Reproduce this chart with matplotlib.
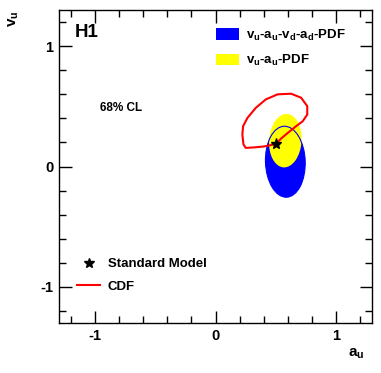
import matplotlib
matplotlib.use('Agg')
import matplotlib.pyplot as plt
from matplotlib.patches import Ellipse, Patch
from matplotlib.lines import Line2D
from matplotlib.ticker import MultipleLocator

plt.rcParams['font.family'] = 'Liberation Sans'
plt.rcParams['font.weight'] = 'bold'
plt.rcParams['axes.unicode_minus'] = False

# 68% CL ellipses (centre a_u, centre v_u, width, height, angle)
blue_ell = (0.58, 0.04, 0.33, 0.59, 2)
yellow_ell = (0.58, 0.215, 0.27, 0.445, -4)

# CDF 68% contour in (a_u, v_u)
cdf_a = [0.502, 0.404, 0.321, 0.251, 0.232, 0.223, 0.229, 0.265, 0.335, 0.418,
         0.516, 0.628, 0.711, 0.762, 0.762, 0.725, 0.669, 0.600, 0.544, 0.502]
cdf_v = [0.187, 0.167, 0.159, 0.155, 0.185, 0.265, 0.335, 0.404, 0.488, 0.558,
         0.600, 0.605, 0.572, 0.502, 0.432, 0.377, 0.335, 0.279, 0.232, 0.187]

sm_a = [0.5]
sm_v = [0.19]

fig = plt.figure(figsize=(3.81, 3.73), dpi=100)
ax = fig.add_axes([0.1549, 0.134, 0.8215, 0.839])

def ell(p, **kw):
    return Ellipse((p[0], p[1]), p[2], p[3], angle=p[4], **kw)

ax.add_patch(ell(blue_ell, facecolor='#0000ff', edgecolor='none', zorder=1))
ax.add_patch(ell(yellow_ell, facecolor='#ffff00', edgecolor='none', zorder=2))
ax.add_patch(ell(blue_ell, facecolor='none', edgecolor='#0000ff', lw=0.8, zorder=3))
ax.plot(cdf_a, cdf_v, color='#ff0000', lw=1.5, zorder=4)
ax.plot(sm_a, sm_v, marker='*', color='black', ms=8, ls='none', zorder=5)

ax.set_xlim(-1.3, 1.3)
ax.set_ylim(-1.3, 1.3)
ax.xaxis.set_major_locator(MultipleLocator(1))
ax.yaxis.set_major_locator(MultipleLocator(1))
ax.xaxis.set_minor_locator(MultipleLocator(0.2))
ax.yaxis.set_minor_locator(MultipleLocator(0.2))
ax.tick_params(which='both', direction='in', top=True, right=True, width=1)
ax.tick_params(which='major', length=9, labelsize=10.5, pad=4)
ax.tick_params(which='minor', length=5)
for s in ax.spines.values():
    s.set_linewidth(1)

ax.text(0.05, 0.957, 'H1', transform=ax.transAxes, fontsize=13.5, va='top', ha='left')
ax.text(0.13, 0.687, '68% CL', transform=ax.transAxes, fontsize=8.5, va='center')

fig.text(0.037, 0.95, r'v$_\mathregular{u}$', rotation=90, fontsize=11, ha='center', va='center')
fig.text(0.935, 0.053, r'a$_\mathregular{u}$', fontsize=11, ha='center', va='center')

h1 = [Patch(facecolor='#0000ff', edgecolor='none'), Patch(facecolor='#ffff00', edgecolor='none')]
l1 = ax.legend(h1, [r'v$_\mathregular{u}$-a$_\mathregular{u}$-v$_\mathregular{d}$-a$_\mathregular{d}$-PDF',
                    r'v$_\mathregular{u}$-a$_\mathregular{u}$-PDF'],
               loc='upper left', bbox_to_anchor=(0.5, 0.944), frameon=False, fontsize=9.5,
               handlelength=1.75, handleheight=0.95, handletextpad=0.55, labelspacing=0.8,
               borderpad=0, borderaxespad=0)
ax.add_artist(l1)

h2 = [Line2D([], [], marker='*', color='black', ls='none', ms=7),
      Line2D([], [], color='#ff0000', lw=1.5)]
ax.legend(h2, ['Standard Model', 'CDF'], loc='upper left', bbox_to_anchor=(0.058, 0.207),
          frameon=False, fontsize=9.5, handlelength=1.75, handletextpad=0.55, labelspacing=0.75,
          borderpad=0, borderaxespad=0)

fig.savefig('out.png', dpi=100)
